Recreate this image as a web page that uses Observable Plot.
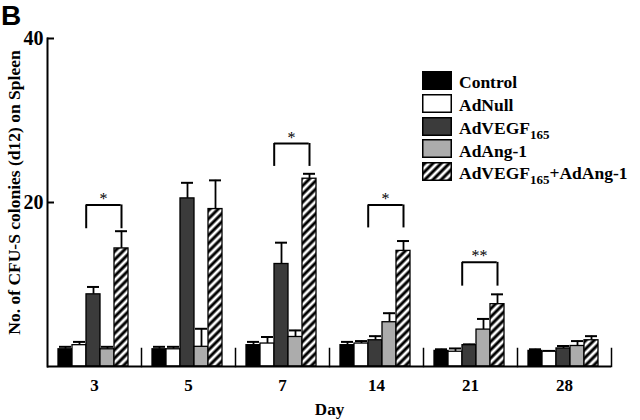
<!DOCTYPE html>
<html>
<head>
<meta charset="utf-8">
<script src="https://cdn.jsdelivr.net/npm/d3@7"></script>
<script src="https://cdn.jsdelivr.net/npm/@observablehq/plot@0.6"></script>
<style>
  html, body { margin: 0; padding: 0; background: #fff; }
  #wrap { position: relative; width: 640px; height: 420px; overflow: hidden; }
  #panel { position: absolute; left: 1px; top: 2px; font: bold 28px "Liberation Sans", Arial, sans-serif; line-height: 1; }
  #legend { position: absolute; left: 422px; top: 71px; font-family: "Liberation Serif", serif; font-weight: bold; font-size: 17.5px; color: #000; }
  .row { position: relative; height: 22.75px; }
  .row svg { position: absolute; left: 0; top: 0; }
  .row span { position: absolute; left: 37px; top: 2.4px; line-height: 18px; white-space: nowrap; }
  .row sub { font-size: 13px; vertical-align: -5px; line-height: 0; }
</style>
</head>
<body>
<svg width="0" height="0" style="position:absolute">
  <defs>
    <pattern id="hatch" patternUnits="userSpaceOnUse" width="5.8" height="5.8" patternTransform="rotate(45)">
      <rect width="5.8" height="5.8" fill="#fff"></rect>
      <line x1="2.9" y1="0" x2="2.9" y2="5.8" stroke="#000" stroke-width="3"></line>
    </pattern>
  </defs>
</svg>
<div id="wrap">
  <div id="chart"></div>
  <div id="panel">B</div>
  <div id="legend"></div>
</div>
<script>
// ---- data ----
const days = ["3", "5", "7", "14", "21", "28"];
const series = ["Control", "AdNull", "AdVEGF165", "AdAng-1", "AdVEGF165+AdAng-1"];
const seriesLabels = ["Control", "AdNull", "AdVEGF<sub>165</sub>", "AdAng-1", "AdVEGF<sub>165</sub>+AdAng-1"];
const fills = ["#000000", "#ffffff", "#3b3b3b", "#acacac", "url(#hatch)"];

const control    = [2.1, 2.1, 2.6, 2.6, 1.9, 1.9];
const controlErr = [0.3, 0.3, 0.4, 0.4, 0.2, 0.2];
const adNull     = [2.6, 2.1, 2.8, 2.8, 1.8, 1.8];
const adNullErr  = [0.4, 0.3, 0.8, 0.3, 0.4, 0.1];
const adVegf     = [8.8, 20.5, 12.5, 3.2, 2.6, 2.2];
const adVegfErr  = [0.9, 1.9, 2.6, 0.5, 0.1, 0.3];
const adAng      = [2.1, 2.4, 3.6, 5.4, 4.5, 2.5];
const adAngErr   = [0.3, 2.2, 0.8, 1.1, 1.3, 0.6];
const combo      = [14.4, 19.2, 22.9, 14.1, 7.6, 3.2];
const comboErr   = [2.1, 3.5, 0.6, 1.2, 1.2, 0.5];

const yTicks = [20, 40];
const yLabel = "No. of CFU-S colonies (d12) on Spleen";
const xLabel = "Day";

const bracketDays  = ["3", "7", "14", "21"];
const bracketTop   = [19.7, 27.2, 19.7, 12.7];
const bracketLow   = [16.8, 24.4, 16.9, 9.8];
const bracketMarks = ["*", "*", "*", "**"];

// ---- tables ----
const values = [control, adNull, adVegf, adAng, combo];
const errs = [controlErr, adNullErr, adVegfErr, adAngErr, comboErr];
const table = [];
days.forEach((day, i) => series.forEach((s, j) => table.push({day, series: s, value: values[j][i], err: errs[j][i]})));
const brackets = bracketDays.map((day, i) => ({day, top: bracketTop[i], low: bracketLow[i], mark: bracketMarks[i]}));

const plot = Plot.plot({
  width: 640,
  height: 420,
  marginLeft: 46,
  marginRight: 28,
  marginTop: 38,
  marginBottom: 54,
  style: {fontFamily: "'Liberation Serif', serif", fontWeight: "bold", fontSize: "17px", color: "#000", background: "#fff"},
  fx: {domain: days, padding: 0, label: null},
  x: {domain: series, padding: 0, insetLeft: 10, insetRight: 11.3, axis: null},
  y: {domain: [0, 40], axis: null},
  color: {type: "ordinal", domain: series, range: fills},
  marks: [
    Plot.ruleX(table, {fx: "day", x: "series", y1: "value", y2: d => d.value + d.err, stroke: "#000", strokeWidth: 1.8}),
    Plot.tickY(table, {fx: "day", x: "series", y: d => d.value + d.err, stroke: "#000", strokeWidth: 2, insetLeft: 1, insetRight: 1}),
    Plot.barY(table, {fx: "day", x: "series", y: "value", fill: "series", stroke: "#000", strokeWidth: 1.3}),
    Plot.ruleY([0], {stroke: "#000", strokeWidth: 2}),
    Plot.frame({anchor: "right", insetTop: 310, stroke: "#000", strokeWidth: 1.5}),
    Plot.frame({anchor: "left", facetAnchor: "left", stroke: "#000", strokeWidth: 2}),
    Plot.axisY({ticks: yTicks, tickSize: -7, tickPadding: 11, fontSize: 20, label: null, strokeWidth: 2}),
    Plot.text([yLabel], {text: d => d, frameAnchor: "left", textAnchor: "middle", lineAnchor: "middle", rotate: -90, dx: -33, dy: -10, fontSize: 17.5, facetAnchor: "left"}),
    Plot.axisFx({anchor: "bottom", tickSize: 0, tickPadding: 12, fontSize: 17, label: xLabel, labelAnchor: "center", labelOffset: 48}),
    Plot.ruleY(brackets, {fx: "day", y: "top", x1: () => series[2], x2: () => series[4], insetRight: 7.3, stroke: "#000", strokeWidth: 2}),
    Plot.ruleX(brackets, {fx: "day", x: () => series[2], y1: "low", y2: "top", dx: -7.3, stroke: "#000", strokeWidth: 2}),
    Plot.ruleX(brackets, {fx: "day", x: () => series[4], y1: "low", y2: "top", stroke: "#000", strokeWidth: 2}),
    Plot.text(brackets, {fx: "day", x: () => series[3], y: "top", text: "mark", dx: -4, dy: -6, fontSize: 16, fontWeight: "normal"})
  ]
});
document.getElementById("chart").appendChild(plot);

// ---- legend ----
const legend = document.getElementById("legend");
series.forEach((s, i) => {
  const row = document.createElement("div");
  row.className = "row";
  row.innerHTML = `<svg width="30" height="19"><rect x="0.75" y="0.75" width="28.5" height="17.5" fill="${fills[i]}" stroke="#000" stroke-width="1.5"></rect></svg><span>${seriesLabels[i]}</span>`;
  legend.appendChild(row);
});
</script>
</body>
</html>
